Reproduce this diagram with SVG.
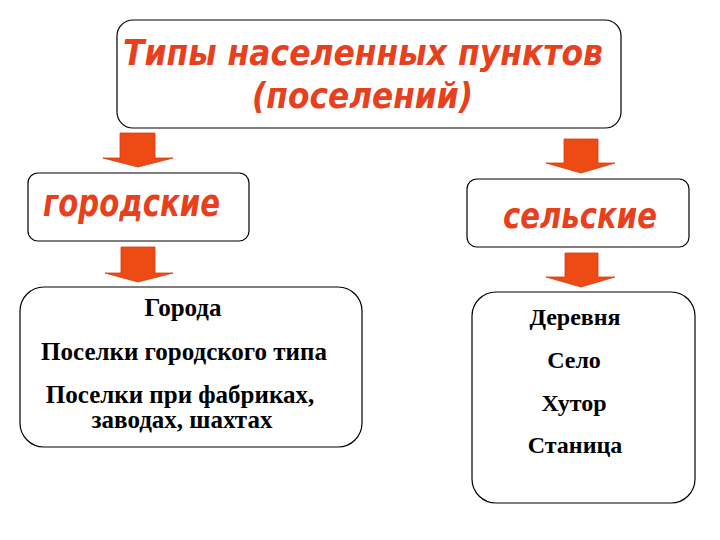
<svg xmlns="http://www.w3.org/2000/svg" width="720" height="540" viewBox="0 0 720 540">
<style>
.box{fill:#fff;stroke:#000;stroke-width:1.2}
.red{fill:#E8401C;font-family:"DejaVu Sans",sans-serif;font-style:italic;font-weight:bold}
.blk{fill:#000;font-family:"Liberation Serif",serif;font-weight:bold;font-size:24px;text-anchor:middle}
.big{font-size:25px}
.arr{fill:#EE4A14;stroke:#D83A10;stroke-width:0.8}
</style>
<rect width="720" height="540" fill="#fff"/>
<g id="title">
<rect class="box" x="117" y="20" width="504" height="108" rx="16"/>
<text class="red" x="123" y="65" font-size="35" textLength="480" lengthAdjust="spacingAndGlyphs">Типы населенных пунктов</text>
<text class="red" x="252" y="108" font-size="35" textLength="221" lengthAdjust="spacingAndGlyphs">(поселений)</text>
</g>
<g id="urban">
<rect class="box" x="28" y="173" width="221" height="68" rx="10"/>
<text class="red" x="43" y="216" font-size="37" textLength="177" lengthAdjust="spacingAndGlyphs">городские</text>
</g>
<g id="rural">
<rect class="box" x="467" y="179" width="222" height="68" rx="10"/>
<text class="red" x="503" y="228" font-size="35" textLength="154" lengthAdjust="spacingAndGlyphs">сельские</text>
</g>
<g id="urban-list">
<rect class="box" x="20" y="287" width="342" height="160" rx="24"/>
<text class="blk big" x="183" y="316">Города</text>
<text class="blk big" x="184" y="360">Поселки городского типа</text>
<text class="blk big" x="180" y="403">Поселки при фабриках,</text>
<text class="blk big" x="182" y="428">заводах, шахтах</text>
</g>
<g id="rural-list">
<rect class="box" x="472" y="292" width="223" height="211" rx="24"/>
<text class="blk" x="575" y="325">Деревня</text>
<text class="blk" x="574" y="368">Село</text>
<text class="blk" x="574" y="411">Хутор</text>
<text class="blk" x="575" y="453">Станица</text>
</g>
<g id="connectors">
<polygon class="arr" points="120,133 155,133 155,158 173,158 138,167 103,158 120,158"/>
<polygon class="arr" points="121,247 155,247 155,273 173,273 138,282 105,273 121,273"/>
<polygon class="arr" points="564,139 598,139 598,163 615,163 581,173 546,163 564,163"/>
<polygon class="arr" points="565,253 598,253 598,277 615,277 581,287 546,277 565,277"/>
</g>
</svg>
